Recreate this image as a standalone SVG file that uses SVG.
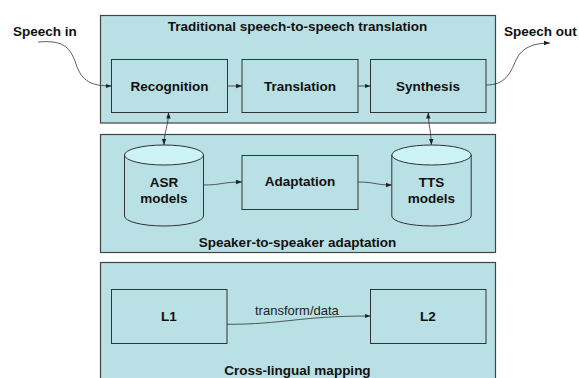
<svg xmlns="http://www.w3.org/2000/svg" width="579" height="378" viewBox="0 0 579 378">
<style>
.panel{fill:#b9e0e4;stroke:#444;stroke-width:1.2}
.box{fill:#b9e0e4;stroke:#333;stroke-width:1}
.cyl{fill:#b9e0e4;stroke:#333;stroke-width:1}
.cyltop{fill:#ccf3f6;stroke:#333;stroke-width:1}
.b{font-family:"Liberation Sans",Arial,sans-serif;font-weight:bold;font-size:13.5px;fill:#111}
.n{font-family:"Liberation Sans",Arial,sans-serif;font-size:13px;fill:#222}
.c{text-anchor:middle}
.edge{fill:none;stroke:#333;stroke-width:0.8}
</style>
<defs>
<marker id="ah" markerUnits="userSpaceOnUse" markerWidth="6" markerHeight="6" viewBox="0 0 6 6" refX="6" refY="3" orient="auto-start-reverse">
<path d="M0,0.8 L6,3 L0,5.2 Z" fill="#222"/>
</marker>
</defs>
<rect width="579" height="378" fill="#fff"/>
<g id="panel-traditional">
<rect class="panel" x="100.5" y="15.5" width="395" height="107.5"/>
<text class="b c" x="297.5" y="30.5">Traditional speech-to-speech translation</text>
</g>
<g id="panel-adaptation">
<rect class="panel" x="100.5" y="134.5" width="395" height="118"/>
<text class="b c" x="297.5" y="246.5">Speaker-to-speaker adaptation</text>
</g>
<g id="panel-crosslingual">
<rect class="panel" x="100.5" y="262.5" width="395" height="130"/>
<text class="b c" x="297.5" y="375">Cross-lingual mapping</text>
</g>
<g id="speech-in"><text class="b" x="13" y="36">Speech in</text></g>
<g id="speech-out"><text class="b" x="504" y="36">Speech out</text></g>
<g id="recognition">
<rect class="box" x="111.5" y="59.5" width="116" height="53"/>
<text class="b c" x="169.5" y="90.5">Recognition</text>
</g>
<g id="translation">
<rect class="box" x="242" y="59.5" width="116" height="53"/>
<text class="b c" x="300" y="90.5">Translation</text>
</g>
<g id="synthesis">
<rect class="box" x="370.5" y="59.5" width="115.5" height="53"/>
<text class="b c" x="428" y="90.5">Synthesis</text>
</g>
<g id="asr-models">
<path class="cyl" d="M124.5,155 L124.5,216 A39.5,10 0 0 0 203.5,216 L203.5,155"/>
<ellipse class="cyltop" cx="164" cy="155" rx="39.5" ry="10"/>
<text class="b c" x="164" y="187">ASR</text>
<text class="b c" x="164" y="203">models</text>
</g>
<g id="adaptation">
<rect class="box" x="242" y="155.5" width="116" height="54"/>
<text class="b c" x="300" y="186">Adaptation</text>
</g>
<g id="tts-models">
<path class="cyl" d="M391.8,155 L391.8,216 A39.7,10 0 0 0 471.2,216 L471.2,155"/>
<ellipse class="cyltop" cx="431.5" cy="155" rx="39.7" ry="10"/>
<text class="b c" x="431.5" y="187">TTS</text>
<text class="b c" x="431.5" y="203">models</text>
</g>
<g id="l1">
<rect class="box" x="111.5" y="289.5" width="115.5" height="54"/>
<text class="b c" x="169" y="321">L1</text>
</g>
<g id="l2">
<rect class="box" x="370.5" y="289.5" width="115.5" height="54"/>
<text class="b c" x="428" y="321">L2</text>
</g>
<g id="connectors">
<path class="edge" marker-end="url(#ah)" d="M38,42 C62,40 70,46 76,64 C82,82 92,86 111.5,86"/>
<path class="edge" marker-end="url(#ah)" d="M227.5,86 L242,86"/>
<path class="edge" marker-end="url(#ah)" d="M358,86 L370.5,86"/>
<path class="edge" marker-end="url(#ah)" d="M486,85 C505,85 510,74 516,60 C522,47 534,43 550,43"/>
<path class="edge" marker-start="url(#ah)" marker-end="url(#ah)" d="M168.5,112.5 C168.5,125 164,132 164,145"/>
<path class="edge" marker-start="url(#ah)" marker-end="url(#ah)" d="M428.3,112.5 C428.3,125 431.3,132 431.3,145"/>
<path class="edge" marker-end="url(#ah)" d="M203.5,185 C222,185 222,182 242,182"/>
<path class="edge" marker-end="url(#ah)" d="M358,182 C375,182 375,185 391.8,185"/>
<path class="edge" marker-end="url(#ah)" d="M227,324.3 C285,324.3 298,316 370.5,316"/>
<text class="n" x="255" y="314.5">transform/data</text>
</g>
</svg>
